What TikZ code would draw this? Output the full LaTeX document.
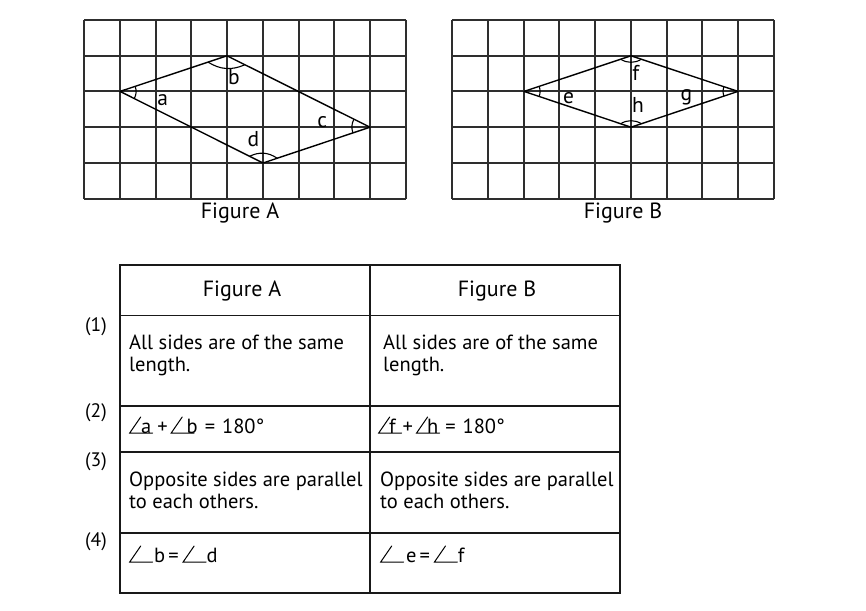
\documentclass[tikz,border=0pt]{standalone}
\usepackage{fontspec}
\setmainfont{PT Sans}
\usetikzlibrary{calc}
\newcommand\angsym{\tikz[x=1pt,y=1pt,baseline=0pt]\draw[line width=1pt,line cap=round,line join=miter] (23,0)--(0,0)--(11,16);}
\begin{document}
\begin{tikzpicture}[x=1pt,y=-1pt,
  gridline/.style={line width=1.5pt, draw=black!82},
  rhomb/.style={line width=1.4pt, draw=black, line join=round},
  anglemark/.style={line width=1.1pt, draw=black},
  lbl/.style={font=\fontsize{21.5}{25}\selectfont, anchor=base, inner sep=0pt},
  captext/.style={font=\fontsize{22}{25}\selectfont, anchor=base, inner sep=0pt},
  txt/.style={font=\fontsize{20.5}{22.5}\selectfont, anchor=base west, inner sep=0pt, align=left},
  num/.style={font=\fontsize{19.5}{22}\selectfont, anchor=center, inner sep=0pt},
  tline/.style={line width=1.4pt, draw=black!90}]
\useasboundingbox (0,0) rectangle (866,610);
\fill[white] (0,0) rectangle (866,610);
% grids
\foreach \gx in {0,368}{
  \foreach \xx in {84,120,156,191,227,263,299,334,370,406} \draw[gridline] (\gx+\xx,20) -- (\gx+\xx,199);
  \foreach \yy in {20,56,91,127,163,199} \draw[gridline] (\gx+84,\yy) -- (\gx+406,\yy);
}
% Figure A vertices
\coordinate (AL) at (120,91.4);
\coordinate (AT) at (227,55.8);
\coordinate (AR) at (370,127.2);
\coordinate (AB) at (263,163);
\draw[rhomb] (AL) -- (AT) -- (AR) -- (AB) -- cycle;
\draw[anglemark] ($(AL)!16pt!(AT)$) to[bend left=22] ($(AL)!16pt!(AB)$);
\draw[anglemark] ($(AT)!20pt!(AL)$) to[bend right=28] ($(AT)!20pt!(AR)$);
\draw[anglemark] ($(AR)!18pt!(AT)$) to[bend right=22] ($(AR)!18pt!(AB)$);
\draw[anglemark] ($(AB)!15pt!(AL)$) to[bend left=30] ($(AB)!15pt!(AR)$);
\node[lbl] (la) at (162.7,105) {a};
\node[lbl] (lb) at (234,84) {b};
\node[lbl] (lc) at (322.3,127.5) {c};
\node[lbl] (ld) at (253.3,146) {d};
% Figure B vertices
\coordinate (BL) at (524,91.4);
\coordinate (BT) at (631,55.8);
\coordinate (BR) at (738,91.4);
\coordinate (BB) at (631,127.2);
\draw[rhomb] (BL) -- (BT) -- (BR) -- (BB) -- cycle;
\draw[anglemark] ($(BL)!16pt!(BT)$) to[bend left=18] ($(BL)!16pt!(BB)$);
\draw[anglemark] ($(BT)!11pt!(BL)$) to[bend right=30] ($(BT)!11pt!(BR)$);
\draw[anglemark] ($(BR)!15pt!(BT)$) to[bend right=18] ($(BR)!15pt!(BB)$);
\draw[anglemark] ($(BB)!11pt!(BL)$) to[bend left=30] ($(BB)!11pt!(BR)$);
\node[lbl] (le) at (568.7,103.3) {e};
\node[lbl] (lf) at (635.7,80) {f};
\node[lbl] (lh) at (638,112.7) {h};
\node[lbl] (lg) at (686.3,100) {g};
% captions
\node[captext] (capA) at (240,218) {Figure A};
\node[captext] (capB) at (623,218) {Figure B};
% table
\draw[tline] (120,265) rectangle (620,593);
\draw[tline] (370,265) -- (370,593);
\foreach \yy in {315.5,406,452,533} \draw[tline] (120,\yy) -- (620,\yy);
\node[captext] (hA) at (242,296) {Figure A};
\node[captext] (hB) at (497,296) {Figure B};
\node[txt] (r1a) at (129,371.5) {All sides are of the same\\length.};
\node[txt] (r1b) at (383,371.5) {All sides are of the same\\length.};
\node[txt] (r2a) at (129,433) {\angsym\kern-12pt a\hspace{6pt}+\hspace{3pt}\angsym\kern-8pt b\hspace{7pt}=\hspace{7pt}180°};
\node[txt] (r2b) at (378,433) {\angsym\kern-13pt f\hspace{7pt}+\hspace{3pt}\angsym\kern-13pt h\hspace{7pt}=\hspace{7pt}180°};
\node[txt] (r3a) at (129,508.5) {Opposite sides are parallel\\to each others.};
\node[txt] (r3b) at (380,508.5) {Opposite sides are parallel\\to each others.};
\node[txt] (r4a) at (129,562) {\angsym\kern1pt b\hspace{3pt}=\hspace{4pt}\angsym d};
\node[txt] (r4b) at (380,562) {\angsym\kern2pt e\hspace{3pt}=\hspace{4pt}\angsym f};
\node[num] (n1) at (96,327) {(1)};
\node[num] (n2) at (96,413) {(2)};
\node[num] (n3) at (96,462) {(3)};
\node[num] (n4) at (96,542) {(4)};
\end{tikzpicture}
\end{document}
